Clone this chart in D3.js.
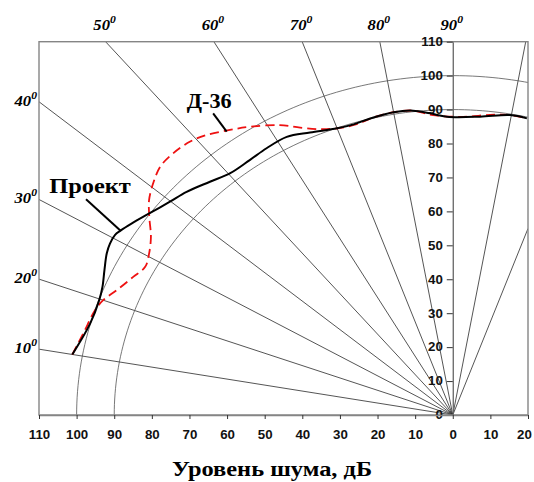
<!DOCTYPE html>
<html>
<head>
<meta charset="utf-8">
<script src="https://cdn.jsdelivr.net/npm/d3@7"></script>
<style>
  html, body { margin: 0; padding: 0; background: #fff; }
  svg { display: block; }
</style>
</head>
<body>
<svg id="chart" width="534" height="482"></svg>
<script>
// Directional noise level: angle (degrees, measured from the left horizontal) and level, dB
const angleProekt = [10, 15.6, 19.8, 22.1, 24.8, 27.4, 29.0, 30.6, 31.6, 33.5, 36.2, 39.9, 42.9, 46.8, 50.3, 54.3, 57.8, 61.7, 65.5, 70.0, 72.9, 75.9, 80.0, 83.3, 86.1, 89.0, 94.7, 99.8, 102.7];
const levelProekt = [102.7, 100.1, 99.9, 100.5, 102.0, 103.6, 104.2, 104.3, 103.7, 102.3, 100.3, 98.0, 96.6, 94.3, 92.6, 92.5, 92.9, 93.1, 91.5, 89.9, 89.6, 90.1, 90.6, 90.3, 89.1, 87.9, 88.2, 89.7, 89.6];

const angleD36 = [10, 13.8, 18.0, 20.0, 22.4, 25.6, 28.1, 30.5, 33.2, 35.9, 38.1, 40.6, 43.3, 46.1, 49.1, 51.6, 54.8, 57.6, 61.7, 64.4, 67.3, 70.0, 73.4, 76.5, 80.0, 83.3, 86.6, 91.8, 96.4, 99.8, 102.7];
const levelD36 = [102.7, 101.1, 100.0, 98.9, 96.6, 94.2, 92.7, 93.7, 95.9, 99.6, 102.6, 104.9, 106.8, 107.1, 106.6, 105.3, 102.8, 100.6, 97.0, 93.9, 91.3, 89.9, 89.4, 90.2, 90.6, 90.3, 88.5, 87.9, 89.0, 89.7, 89.6];

// Grid
const rayAngles = [10, 20, 30, 40, 50, 60, 70, 80, 100, 110];
const angleLabels = [10, 20, 30, 40, 50, 60, 70, 80, 90];
const ringLevels = [90, 100];
const xTicks = [-110, -100, -90, -80, -70, -60, -50, -40, -30, -20, -10, 0, 10, 20];
const yTicks = [0, 10, 20, 30, 40, 50, 60, 70, 80, 90, 100, 110];

const xLabel = "Уровень шума, дБ";
const seriesNames = ["Проект", "Д-36"];

const STRETCH = 1.11;
const svg = d3.select("#chart");

const x = d3.scaleLinear().domain([-110, 20]).range([39, 528]);
const y = d3.scaleLinear().domain([0, 110]).range([415, 41.7]);
const rad = d => d * Math.PI / 180;
const px = (a, r) => x(-r * Math.cos(rad(a)));
const py = (a, r) => y(r * Math.sin(rad(a)));

svg.append("defs").append("clipPath").attr("id", "plot")
  .append("rect").attr("x", x(-110)).attr("y", y(110))
  .attr("width", x(20) - x(-110)).attr("height", y(0) - y(110));

const grid = svg.append("g").attr("clip-path", "url(#plot)");

// where a ray from the origin leaves the plot box
function rayEnd(a) {
  const dx = -Math.cos(rad(a)), dy = Math.sin(rad(a));
  const tx = dx < 0 ? -110 / dx : 20 / dx;
  const ty = 110 / dy;
  const t = Math.min(tx, ty);
  return { dx: dx * t, dy: dy * t, side: tx < ty ? (dx < 0 ? "left" : "right") : "top" };
}

grid.selectAll("line.ray").data(rayAngles).join("line")
  .attr("x1", x(0)).attr("y1", y(0))
  .attr("x2", a => x(rayEnd(a).dx)).attr("y2", a => y(rayEnd(a).dy))
  .attr("stroke", "#2a2a2a").attr("stroke-width", 0.8);

const ringLine = d3.line().x(d => d[0]).y(d => d[1]);
grid.selectAll("path.ring").data(ringLevels).join("path")
  .attr("d", r => ringLine(d3.range(0, 181, 1).map(a => [px(a, r), py(a, r)])))
  .attr("fill", "none").attr("stroke", "#555").attr("stroke-width", 0.8);

// frame
svg.append("rect").attr("x", x(-110)).attr("y", y(110))
  .attr("width", x(20) - x(-110)).attr("height", y(0) - y(110))
  .attr("fill", "none").attr("stroke", "#858585").attr("stroke-width", 1.4);

// vertical level axis through the origin
const yAxis = svg.append("g").attr("transform", `translate(${x(0)},0)`)
  .call(d3.axisLeft(y).tickValues(yTicks).tickSize(6).tickPadding(3).tickSizeOuter(0));
yAxis.select(".domain").attr("stroke", "#666").attr("stroke-width", 1.3);
yAxis.selectAll(".tick line").attr("stroke", "#333");
yAxis.selectAll("text").attr("font-family", "'Liberation Sans', Arial, sans-serif")
  .attr("font-size", 12).attr("font-weight", "bold").attr("fill", "#111")
  .attr("transform", `scale(${STRETCH},1)`);

// horizontal axis
const xAxis = svg.append("g").attr("transform", `translate(0,${y(0)})`)
  .call(d3.axisBottom(x).tickValues(xTicks).tickFormat(d => Math.abs(d))
    .tickSize(4).tickPadding(11).tickSizeOuter(0));
xAxis.select(".domain").attr("stroke", "#858585").attr("stroke-width", 1.4);
xAxis.selectAll(".tick line").attr("stroke", "#333");
xAxis.selectAll("text").attr("font-family", "'Liberation Sans', Arial, sans-serif")
  .attr("font-size", 12).attr("font-weight", "bold").attr("fill", "#111")
  .attr("transform", d => d === 20 ? `translate(-4,0) scale(${STRETCH},1)` : `scale(${STRETCH},1)`);

// angle labels
const angleG = svg.append("g").attr("font-family", "'Liberation Serif', 'Times New Roman', serif")
  .attr("font-weight", "bold").attr("font-style", "italic").attr("fill", "#000");
angleLabels.forEach(a => {
  const e = a === 90 ? { dx: 0, dy: 110, side: "top" } : rayEnd(a);
  let tx, ty, anchor;
  if (e.side === "left") { tx = x(-110) - 2; ty = y(e.dy) + 4; anchor = "end"; }
  else { tx = x(e.dx) - 1; ty = 30; anchor = "middle"; }
  const t = angleG.append("text").attr("text-anchor", anchor)
    .attr("transform", `translate(${tx},${ty}) scale(${STRETCH},1)`);
  t.append("tspan").attr("font-size", 15).text(a);
  t.append("tspan").attr("font-size", 10.5).attr("dy", -7).text("0");
});

// series curves
const curve = d3.line()
  .x(d => px(d[0], d[1])).y(d => py(d[0], d[1]))
  .curve(d3.curveCatmullRom.alpha(0.5));
const marks = svg.append("g").attr("clip-path", "url(#plot)");
marks.append("path").datum(d3.zip(angleD36, levelD36))
  .attr("d", curve).attr("fill", "none").attr("stroke", "#ee1111")
  .attr("stroke-width", 1.8).attr("stroke-dasharray", "9,5");
marks.append("path").datum(d3.zip(angleProekt, levelProekt))
  .attr("d", curve).attr("fill", "none").attr("stroke", "#000")
  .attr("stroke-width", 2);

// series callouts (positions in data units)
const callouts = [
  { name: seriesNames[0], size: 22, tx: -107.3, ty: 65.3, from: [-97.5, 63.6], to: [-88.3, 54.3] },
  { name: seriesNames[1], size: 20, tx: -70.7, ty: 90.4, from: [-63.7, 88.9], to: [-60.1, 83.5] }
];
callouts.forEach(c => {
  svg.append("line")
    .attr("x1", x(c.from[0])).attr("y1", y(c.from[1]))
    .attr("x2", x(c.to[0])).attr("y2", y(c.to[1]))
    .attr("stroke", "#000").attr("stroke-width", 2);
  svg.append("text")
    .attr("transform", `translate(${x(c.tx)},${y(c.ty)}) scale(${STRETCH},1)`)
    .attr("font-family", "'Liberation Serif', 'Times New Roman', serif")
    .attr("font-weight", "bold").attr("font-size", c.size).attr("fill", "#000")
    .text(c.name);
});

// axis title
svg.append("text")
  .attr("transform", `translate(272,476) scale(${STRETCH},1)`)
  .attr("text-anchor", "middle")
  .attr("font-family", "'Liberation Serif', 'Times New Roman', serif")
  .attr("font-weight", "bold").attr("font-size", 22).attr("fill", "#000")
  .text(xLabel);
</script>
</body>
</html>
